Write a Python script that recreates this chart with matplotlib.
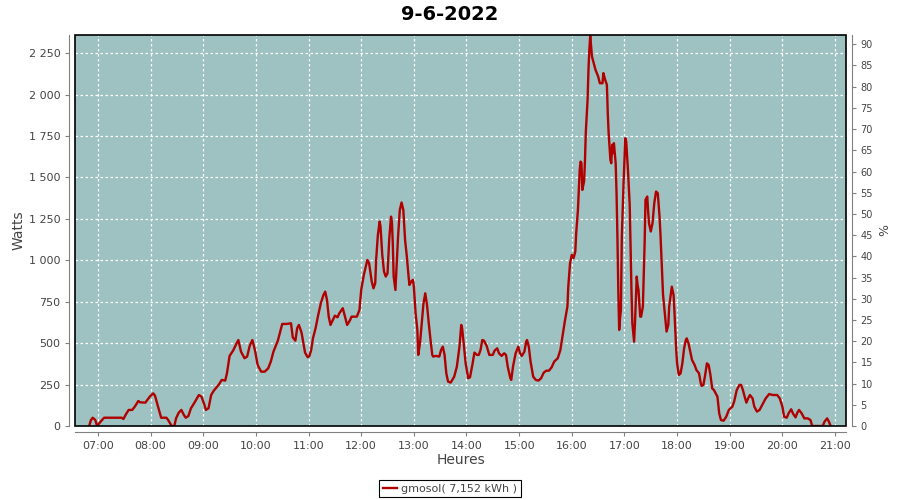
import pandas as pd
import matplotlib
matplotlib.use("Agg")
import matplotlib.pyplot as plt
import matplotlib.dates as mdates
from matplotlib.patches import Rectangle
from matplotlib.ticker import FuncFormatter, MultipleLocator

day = "2022-06-09"
title = "9-6-2022"
series_name = "gmosol( 7,152 kWh )"

# readings (HH:MM, watts) taken off the curve
times = ["06:50", "06:52", "06:54", "06:57", "06:59", "07:02", "07:07", "07:27", "07:29", "07:32",
         "07:35", "07:39", "07:42", "07:46", "07:48", "07:54", "07:59", "08:03", "08:05", "08:08",
         "08:12", "08:18", "08:20", "08:24", "08:27", "08:29", "08:32", "08:35", "08:38", "08:40",
         "08:43", "08:46", "08:50", "08:55", "08:58", "09:01", "09:03", "09:06", "09:09", "09:12",
         "09:18", "09:21", "09:25", "09:27", "09:30", "09:34", "09:38", "09:40", "09:43", "09:47",
         "09:50", "09:53", "09:56", "09:59", "10:02", "10:06", "10:10", "10:14", "10:17", "10:20",
         "10:25", "10:30", "10:35", "10:40", "10:42", "10:45", "10:47", "10:49", "10:52", "10:56",
         "10:59", "11:01", "11:03", "11:05", "11:08", "11:11", "11:14", "11:17", "11:19", "11:21",
         "11:23", "11:25", "11:30", "11:33", "11:35", "11:39", "11:41", "11:44", "11:47", "11:49",
         "11:55", "11:58", "12:00", "12:03", "12:07", "12:09", "12:12", "12:14", "12:16", "12:17",
         "12:19", "12:21", "12:22", "12:24", "12:26", "12:28", "12:30", "12:32", "12:34", "12:35",
         "12:36", "12:37", "12:39", "12:40", "12:42", "12:44", "12:46", "12:48", "12:50", "12:52",
         "12:54", "12:55", "12:57", "12:59", "13:00", "13:02", "13:04", "13:05", "13:07", "13:09",
         "13:11", "13:13", "13:15", "13:17", "13:19", "13:21", "13:22", "13:25", "13:29", "13:31",
         "13:33", "13:35", "13:37", "13:39", "13:42", "13:46", "13:49", "13:52", "13:54", "13:55",
         "13:57", "13:59", "14:02", "14:04", "14:07", "14:09", "14:12", "14:14", "14:16", "14:18",
         "14:20", "14:23", "14:26", "14:30", "14:32", "14:35", "14:37", "14:40", "14:43", "14:45",
         "14:47", "14:50", "14:51", "14:53", "14:56", "14:59", "15:01", "15:03", "15:06", "15:08",
         "15:09", "15:11", "15:13", "15:16", "15:19", "15:22", "15:25", "15:28", "15:31", "15:34",
         "15:37", "15:40", "15:44", "15:47", "15:50", "15:52", "15:55", "15:56", "15:58", "16:00",
         "16:02", "16:04", "16:05", "16:07", "16:09", "16:10", "16:11", "16:12", "16:14", "16:15",
         "16:16", "16:18", "16:19", "16:20", "16:21", "16:22", "16:23", "16:25", "16:27", "16:30",
         "16:32", "16:35", "16:36", "16:38", "16:40", "16:41", "16:42", "16:44", "16:45", "16:46",
         "16:47", "16:48", "16:50", "16:51", "16:52", "16:53", "16:54", "16:55", "16:56", "16:57",
         "16:59", "17:01", "17:02", "17:04", "17:06", "17:07", "17:08", "17:09", "17:11", "17:12",
         "17:14", "17:15", "17:16", "17:18", "17:19", "17:21", "17:23", "17:24", "17:26", "17:27",
         "17:28", "17:30", "17:32", "17:34", "17:36", "17:38", "17:40", "17:41", "17:43", "17:44",
         "17:46", "17:48", "17:50", "17:51", "17:53", "17:54", "17:56", "17:57", "17:59", "18:00",
         "18:02", "18:04", "18:06", "18:08", "18:10", "18:11", "18:13", "18:15", "18:17", "18:20",
         "18:22", "18:25", "18:27", "18:28", "18:30", "18:32", "18:34", "18:36", "18:38", "18:40",
         "18:42", "18:44", "18:46", "18:48", "18:50", "18:53", "18:56", "18:59", "19:03", "19:05",
         "19:08", "19:11", "19:13", "19:15", "19:17", "19:19", "19:21", "19:23", "19:26", "19:28",
         "19:31", "19:34", "19:38", "19:41", "19:45", "19:49", "19:54", "19:57", "20:00", "20:02",
         "20:05", "20:07", "20:10", "20:12", "20:15", "20:17", "20:19", "20:22", "20:25", "20:29",
         "20:32", "20:34", "20:46", "20:48", "20:51", "20:53", "20:55"]
watts = [0, 36, 50, 36, 0, 20, 50, 50, 42, 72,
         97, 97, 117, 151, 143, 141, 177, 197, 183, 127,
         50, 50, 36, 0, 0, 46, 80, 97, 66, 50,
         60, 107, 141, 187, 177, 133, 97, 107, 187, 213,
         252, 278, 274, 318, 423, 455, 499, 519, 449, 409,
         419, 485, 519, 455, 368, 328, 328, 348, 389, 449,
         515, 616, 616, 620, 535, 515, 590, 610, 564, 443,
         415, 423, 459, 529, 590, 670, 741, 791, 811, 761,
         660, 610, 666, 656, 680, 711, 670, 610, 636, 660,
         660, 700, 821, 912, 1002, 982, 872, 831, 862, 1002,
         1153, 1234, 1204, 1033, 932, 902, 922, 1133, 1264, 1234,
         1103, 902, 821, 932, 1143, 1304, 1349, 1304, 1123, 1023,
         902, 851, 872, 882, 841, 680, 580, 429, 499, 620,
         741, 801, 731, 620, 519, 429, 419, 423, 419, 459,
         479, 429, 318, 268, 262, 298, 358, 479, 610, 590,
         489, 378, 288, 294, 378, 443, 429, 429, 459, 519,
         515, 483, 429, 429, 455, 469, 439, 423, 439, 429,
         358, 288, 278, 358, 439, 479, 439, 423, 449, 509,
         519, 479, 389, 298, 278, 274, 288, 322, 334, 334,
         354, 389, 409, 459, 560, 630, 721, 841, 982, 1033,
         1013, 1053, 1163, 1304, 1546, 1596, 1586, 1425, 1476, 1600,
         1777, 1969, 2150, 2271, 2355, 2291, 2230, 2190, 2150, 2110,
         2069, 2069, 2130, 2090, 2059, 1888, 1767, 1606, 1586, 1697,
         1647, 1707, 1586, 1405, 1143, 821, 580, 650, 701, 1143,
         1466, 1737, 1717, 1546, 1335, 1083, 821, 620, 509, 620,
         902, 851, 821, 660, 660, 721, 1103, 1365, 1385, 1294,
         1224, 1174, 1224, 1345, 1415, 1405, 1264, 1163, 912, 791,
         680, 570, 610, 721, 801, 841, 791, 690, 459, 378,
         308, 318, 378, 469, 519, 529, 499, 449, 399, 368,
         338, 318, 258, 242, 248, 308, 378, 368, 308, 227,
         217, 197, 177, 76, 36, 32, 56, 97, 117, 147,
         217, 248, 248, 217, 177, 141, 167, 187, 167, 117,
         87, 97, 137, 167, 193, 187, 187, 167, 117, 56,
         50, 76, 101, 76, 52, 80, 97, 76, 46, 46,
         36, 0, 0, 26, 46, 26, 0]

x = pd.to_datetime([day + " " + t for t in times])

bg = "#9ec2c2"
red = "#b00000"
grey = "#808080"
txt = "#444444"

fig = plt.figure(figsize=(9, 5), dpi=100)
ax = fig.add_axes([75 / 900, 74 / 500, 771 / 900, 391 / 500])
ax.set_facecolor(bg)
ax.plot(x, watts, color=red, lw=1.7, zorder=3)

ax.set_xlim(pd.Timestamp(day + " 06:33:50"), pd.Timestamp(day + " 21:12:30"))
ax.set_ylim(0, 2360)
ax.xaxis.set_major_locator(mdates.HourLocator())
ax.xaxis.set_major_formatter(mdates.DateFormatter("%H:%M"))
ax.yaxis.set_major_locator(MultipleLocator(250))
ax.yaxis.set_major_formatter(FuncFormatter(lambda v, p: f"{int(v):,}".replace(",", " ")))
ax.grid(True, color="white", ls=(0, (2, 2)), lw=0.9)

ax2 = ax.twinx()
ax2.set_ylim(0, 2360 / 25.6)
ax2.yaxis.set_major_locator(MultipleLocator(5))

for a in (ax, ax2):
    for s in a.spines.values():
        s.set_visible(False)
    a.tick_params(colors=grey, labelcolor=txt, labelsize=8, length=3, width=0.8)
ax.spines["left"].set_visible(True)
ax.spines["bottom"].set_visible(True)
ax2.spines["right"].set_visible(True)
for s in (ax.spines["left"], ax.spines["bottom"], ax2.spines["right"]):
    s.set_position(("outward", 4))
    s.set_color(grey)
ax2.tick_params(labelsize=7)

ax.add_patch(Rectangle((0, 0), 1, 1, transform=ax.transAxes, fill=False,
                       ec="black", lw=1.2, zorder=5, clip_on=False))

ax.set_ylabel("Watts", fontsize=10, color=txt, labelpad=2)
ax.set_xlabel("Heures", fontsize=10, color=txt, labelpad=2)
ax2.set_ylabel("%", fontsize=9, color=txt)
fig.text(0.5, 1 - 15 / 500, title, fontsize=14, fontweight="bold", ha="center", va="center")

leg = fig.legend([ax.lines[0]], [series_name], loc="lower center",
                 bbox_to_anchor=(0.5, -0.006), fontsize=8, fancybox=False,
                 handlelength=1.3, handletextpad=0.4, borderpad=0.35, framealpha=1)
leg.get_frame().set_edgecolor("black")
leg.get_frame().set_linewidth(0.8)
for t in leg.get_texts():
    t.set_color(txt)

fig.savefig("out.png", dpi=100)
